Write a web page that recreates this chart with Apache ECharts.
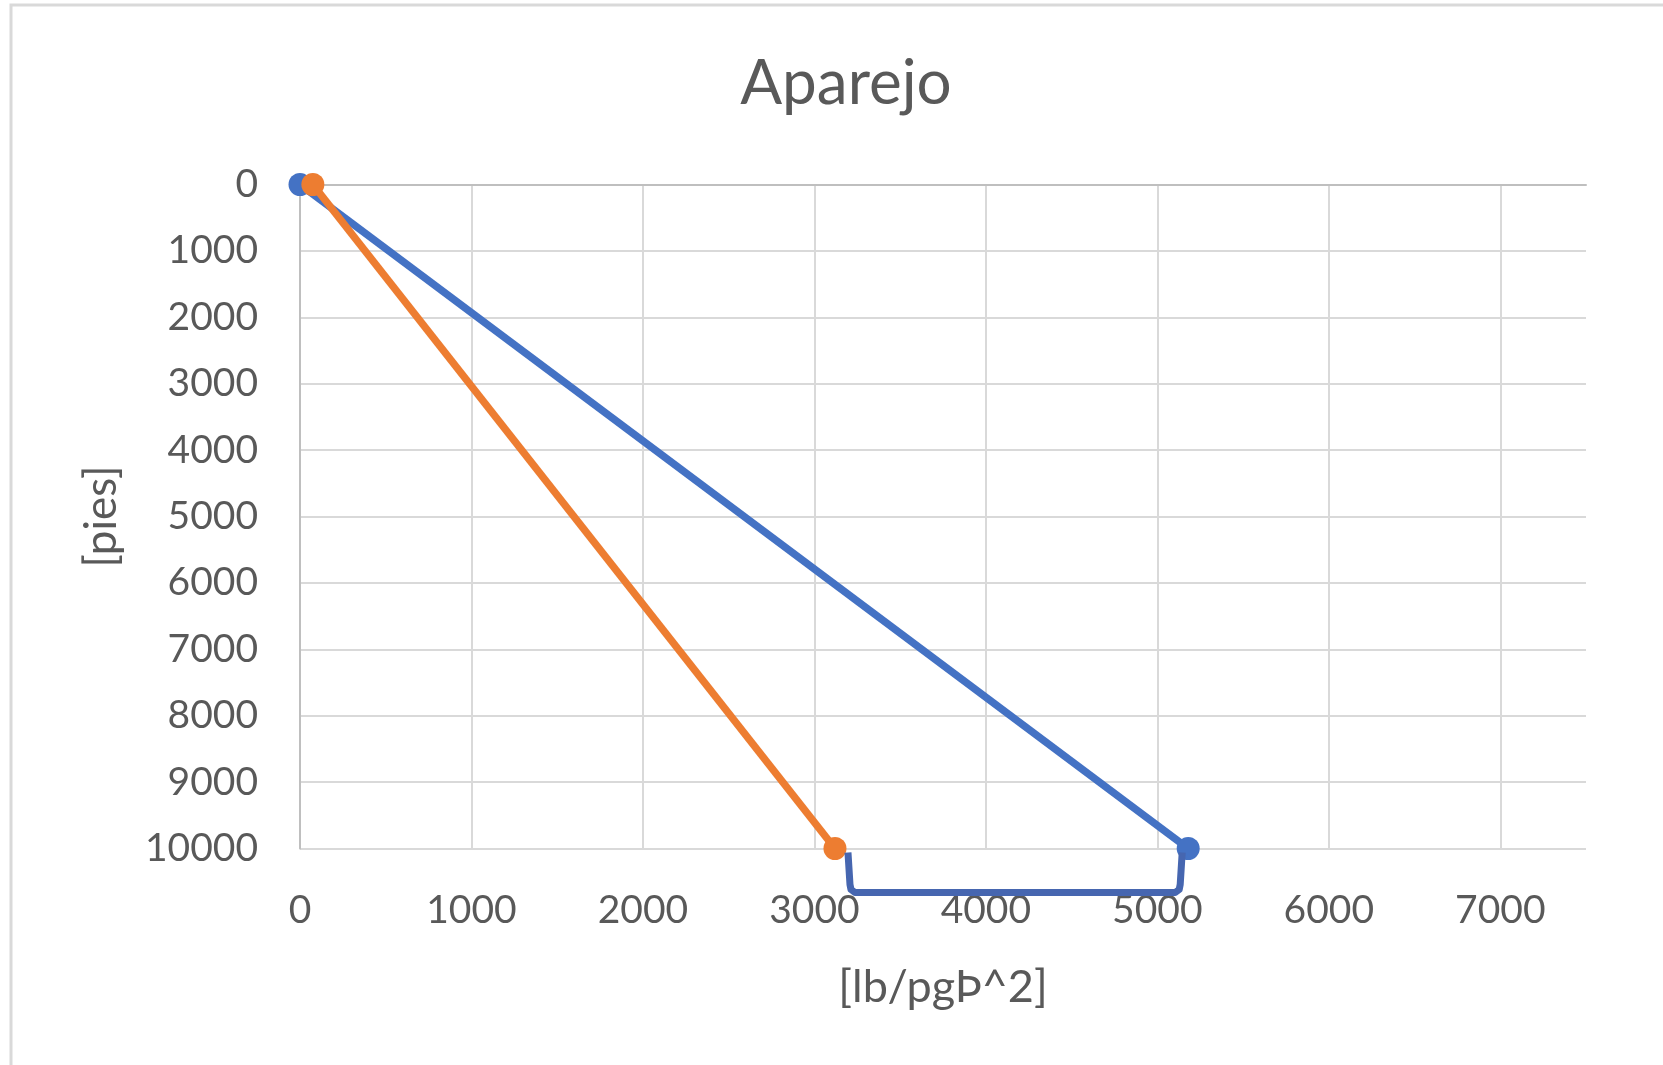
<!DOCTYPE html>
<html>
<head>
<meta charset="utf-8">
<title>Aparejo</title>
<script src="https://cdn.jsdelivr.net/npm/echarts@6/dist/echarts.min.js"></script>
<style>
  html, body { margin: 0; padding: 0; background: #fff; }
  #chart { width: 1663px; height: 1065px; }
</style>
</head>
<body>
<div id="chart"></div>
<script>
// profundidad [pies]
const depths = [0, 10000]
// presion [lb/pg^2]
const bluePressure = [0, 5180]
const orangePressure = [75, 3120]

const xMax = 7500
const yMax = 10000
const tickStep = 1000

const textColor = '#595959'
const font = 'Lato, "Open Sans", sans-serif'

const toPoints = (xs, ys) => xs.map((x, i) => [x, ys[i]])

const chart = echarts.init(document.getElementById('chart'))
const option = {
  animation: false,
  backgroundColor: '#fff',
  title: {
    text: 'Aparejo',
    left: 841,
    textAlign: 'center',
    top: 48,
    textStyle: { fontFamily: font, fontSize: 62, fontWeight: 'normal', color: textColor }
  },
  grid: { left: 300, top: 184.5, right: 77, bottom: 216.5, containLabel: false },
  xAxis: {
    type: 'value',
    min: 0,
    max: xMax,
    interval: tickStep,
    name: '[lb/pgÞ^2]',
    nameLocation: 'middle',
    nameGap: 116,
    nameTextStyle: { fontFamily: font, fontSize: 45, color: textColor },
    axisLine: { show: true, lineStyle: { color: '#bfbfbf', width: 2 } },
    axisTick: { show: false },
    axisLabel: {
      fontFamily: font, fontSize: 39, color: textColor, margin: 42,
      showMaxLabel: false,
      formatter: v => (v % tickStep === 0 ? String(v) : '')
    },
    splitLine: { show: true, showMaxLine: false, lineStyle: { color: '#d9d9d9', width: 2 } }
  },
  yAxis: {
    type: 'value',
    inverse: true,
    min: 0,
    max: yMax,
    interval: tickStep,
    name: '[pies]',
    nameLocation: 'middle',
    nameGap: 176,
    nameRotate: 90,
    nameTextStyle: { fontFamily: font, fontSize: 44, color: textColor },
    axisLine: { show: true, lineStyle: { color: '#bfbfbf', width: 2 } },
    axisTick: { show: false },
    axisLabel: { fontFamily: font, fontSize: 39, color: textColor, margin: 42, formatter: v => String(v) },
    splitLine: { show: true, lineStyle: { color: '#d9d9d9', width: 2 } }
  },
  series: [
    {
      name: 'Azul',
      type: 'line',
      data: toPoints(bluePressure, depths),
      symbol: 'circle',
      symbolSize: 23,
      color: '#4472C4',
      lineStyle: { width: 7.5, color: '#4472C4' },
      clip: false,
      z: 3
    },
    {
      name: 'Naranja',
      type: 'line',
      data: toPoints(orangePressure, depths),
      symbol: 'circle',
      symbolSize: 23,
      color: '#ED7D31',
      lineStyle: { width: 7.5, color: '#ED7D31' },
      clip: false,
      z: 4
    }
  ]
}
chart.setOption(option)

// corchete bajo el eje, entre los dos puntos finales
const pOrange = chart.convertToPixel({ gridIndex: 0 }, [orangePressure[1], depths[1]])
const pBlue = chart.convertToPixel({ gridIndex: 0 }, [bluePressure[1], depths[1]])
const bl = pOrange[0] + 13
const br = pBlue[0] - 6
const bt = pOrange[1] + 4
const bb = bt + 40
chart.setOption({
  graphic: [
    {
      type: 'rect',
      shape: { x: 11, y: 5, width: 1700, height: 1100 },
      style: { fill: 'none', stroke: '#d9d9d9', lineWidth: 3 },
      silent: true,
      z: -1
    },
    {
      type: 'polyline',
      shape: {
        points: [
          [bl, bt], [bl + 2, bb - 8], [bl + 3, bb - 3], [bl + 7, bb],
          [br - 7, bb], [br - 3, bb - 3], [br - 2, bb - 8], [br, bt]
        ]
      },
      style: { fill: 'none', stroke: '#4666B0', lineWidth: 7, lineJoin: 'round' },
      silent: true,
      z: 10
    }
  ]
})
</script>
</body>
</html>
